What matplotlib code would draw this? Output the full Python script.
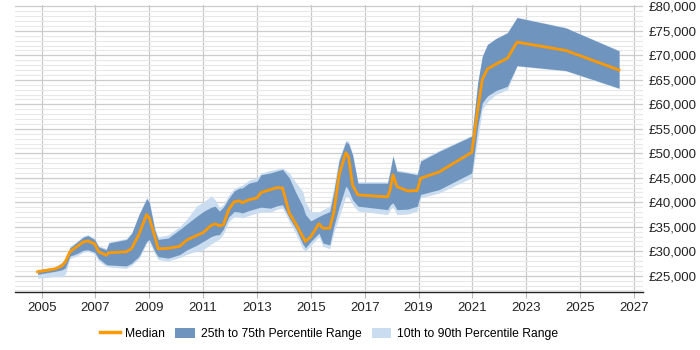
import matplotlib.pyplot as plt
from matplotlib.ticker import MultipleLocator, FuncFormatter
from matplotlib.lines import Line2D
from matplotlib.patches import Patch

plt.rcParams['font.family'] = ['Liberation Sans', 'DejaVu Sans']

# Data (decimal years, GBP)
years = [2004.85, 2005.5, 2005.75, 2005.88, 2006.05, 2006.3, 2006.55, 2006.72, 2006.97, 2007.12,
         2007.4, 2007.5, 2008.15, 2008.35, 2008.62, 2008.9, 2009.0, 2009.2, 2009.33, 2009.7,
         2010.12, 2010.4, 2010.75, 2011.0, 2011.3, 2011.45, 2011.6, 2011.75, 2011.95, 2012.15,
         2012.35, 2012.45, 2012.7, 2013.0, 2013.15, 2013.5, 2013.75, 2013.95, 2014.2, 2014.45,
         2014.7, 2014.8, 2015.0, 2015.3, 2015.45, 2015.7, 2015.85, 2016.05, 2016.3,
         2016.4, 2016.55, 2016.75, 2017.85, 2017.95, 2018.05, 2018.2, 2018.6, 2018.95, 2019.08,
         2019.77, 2020.98, 2021.2, 2021.37, 2021.56, 2021.87, 2022.3, 2022.66, 2024.47, 2026.45]

p10 = [24500, 24800, 24800, 25300, 28500, 29000, 29800, 30000, 29400, 28000,
       26900, 26800, 26500, 27200, 28500, 31600, 32000, 29500, 28300, 28000,
       28700, 29400, 30000, 30300, 31500, 32000, 32500, 33500, 36000, 37100,
       37000, 36800, 37300, 37800, 38000, 38000, 38600, 38800, 36000, 33500,
       30500, 30000, 31200, 33000, 31000, 30500, 33800, 37000, 41200,
       41000, 39500, 38200, 37500, 38500, 39000, 37500, 37600, 38200, 40900,
       41900, 45000, 52800, 59000, 60500, 62000, 63000, 67800, 66800, 63200]

p25 = [25300, 25900, 26200, 26600, 29000, 29500, 30200, 30300, 29800, 28500,
       27300, 27200, 27000, 27600, 29000, 32000, 32400, 30000, 28900, 28600,
       29300, 30300, 31200, 32000, 33000, 33300, 33400, 34500, 37000, 38100,
       38000, 37800, 38300, 38800, 39000, 38800, 39300, 39500, 36800, 34500,
       31500, 30700, 32000, 33700, 31700, 31300, 35000, 39000, 43300,
       42500, 40500, 39200, 38500, 39500, 39900, 38500, 38600, 39200, 41600,
       42600, 46000, 55500, 60300, 61700, 62800, 63700, 67900, 66900, 63300]

median = [25800, 26400, 27000, 27800, 29900, 30900, 31900, 32100, 31500, 29900,
          29200, 29700, 29900, 30600, 33500, 37500, 36800, 33100, 30500, 30600,
          31000, 32300, 33200, 33800, 35300, 35600, 35200, 35400, 38500, 40100,
          40300, 39900, 40500, 40900, 42000, 42600, 43000, 42900, 37800, 35500,
          33000, 32000, 33000, 35600, 34700, 34700, 37800, 45600, 50100,
          49300, 43500, 41500, 41100, 42600, 45600, 43200, 42300, 42400, 44900,
          46200, 50200, 58900, 65100, 67200, 68200, 69400, 72700, 71000, 67000]

p75 = [26200, 26700, 27600, 28500, 30700, 31800, 32900, 33200, 32400, 30900,
       30300, 31700, 32400, 33700, 37500, 40700, 40000, 34400, 32400, 32700,
       34400, 35600, 37100, 38100, 39000, 39200, 38200, 39000, 40800, 42300,
       42900, 42900, 43900, 44300, 45600, 46000, 46400, 46700, 45000, 41900,
       39200, 37500, 36200, 37100, 37500, 38100, 42000, 48500, 52300,
       52000, 49700, 43900, 43900, 46500, 49400, 46300, 46000, 45600, 48400,
       50400, 53500, 64400, 69800, 72200, 73400, 74600, 77700, 75600, 70900]

p90 = [26300, 26800, 27800, 28700, 31000, 32000, 33100, 33400, 32600, 31100,
       30600, 31900, 32600, 33900, 37700, 41000, 40300, 34900, 33000, 33300,
       35000, 36600, 39200, 40000, 41300, 40500, 39000, 39500, 41500, 42800,
       43300, 43500, 44500, 45000, 46000, 46500, 46800, 47000, 46000, 44000,
       42200, 40000, 38100, 38000, 38500, 39200, 43000, 49000, 52700,
       52500, 50000, 44200, 44200, 46800, 49700, 46600, 46200, 45900, 48700,
       50600, 53700, 64600, 70000, 72300, 73500, 74700, 77800, 75700, 71000]

year_ticks = [2005, 2007, 2009, 2011, 2013, 2015, 2017, 2019, 2021, 2023, 2025, 2027]

light_col = '#cadcef'
dark_col = '#6f95bf'
median_col = '#ff9900'

fig = plt.figure(figsize=(7, 3.5), dpi=100)
ax = fig.add_axes([0.021, 0.166, 0.898, 0.82])

ax.fill_between(years, p10, p90, color=light_col, linewidth=0, zorder=2)
ax.fill_between(years, p25, p75, color=dark_col, linewidth=0, zorder=3)
ax.plot(years, median, color=median_col, linewidth=2, zorder=4)

ax.set_xlim(2004.0, 2027.35)
ax.set_ylim(21700, 80300)

ax.set_xticks(year_ticks)
ax.set_xticklabels([str(y) for y in year_ticks])
ax.yaxis.set_major_locator(MultipleLocator(5000))
ax.yaxis.set_minor_locator(MultipleLocator(1000))
ax.yaxis.set_major_formatter(FuncFormatter(lambda v, p: f'£{int(v):,}'))

ax.yaxis.tick_right()
ax.grid(which='major', axis='y', color='#cccccc', linewidth=0.9, zorder=0)
ax.grid(which='minor', axis='y', color='#e8e8e8', linewidth=0.8, zorder=0)
ax.grid(which='major', axis='x', color='#c8c8c8', linewidth=0.9, zorder=0)
ax.set_axisbelow(True)

for s in ['top', 'left', 'right']:
    ax.spines[s].set_visible(False)
ax.spines['bottom'].set_color('#222222')
ax.spines['bottom'].set_linewidth(1)

ax.tick_params(axis='y', which='both', length=0, labelsize=9.5, colors='#222222', pad=4)
ax.tick_params(axis='x', length=4, color='#bbbbbb', labelsize=9.5, labelcolor='#222222')

handles = [Line2D([0], [0], color=median_col, linewidth=2.5),
           Patch(facecolor=dark_col, edgecolor='none'),
           Patch(facecolor=light_col, edgecolor='none')]
labels = ['Median', '25th to 75th Percentile Range', '10th to 90th Percentile Range']
fig.legend(handles, labels, loc='center', bbox_to_anchor=(0.47, 0.046), ncol=3,
           frameon=False, fontsize=8.7, handlelength=1.65, handleheight=1.0,
           columnspacing=0.85, handletextpad=0.42)

fig.savefig('out.png', dpi=100, facecolor='white')
